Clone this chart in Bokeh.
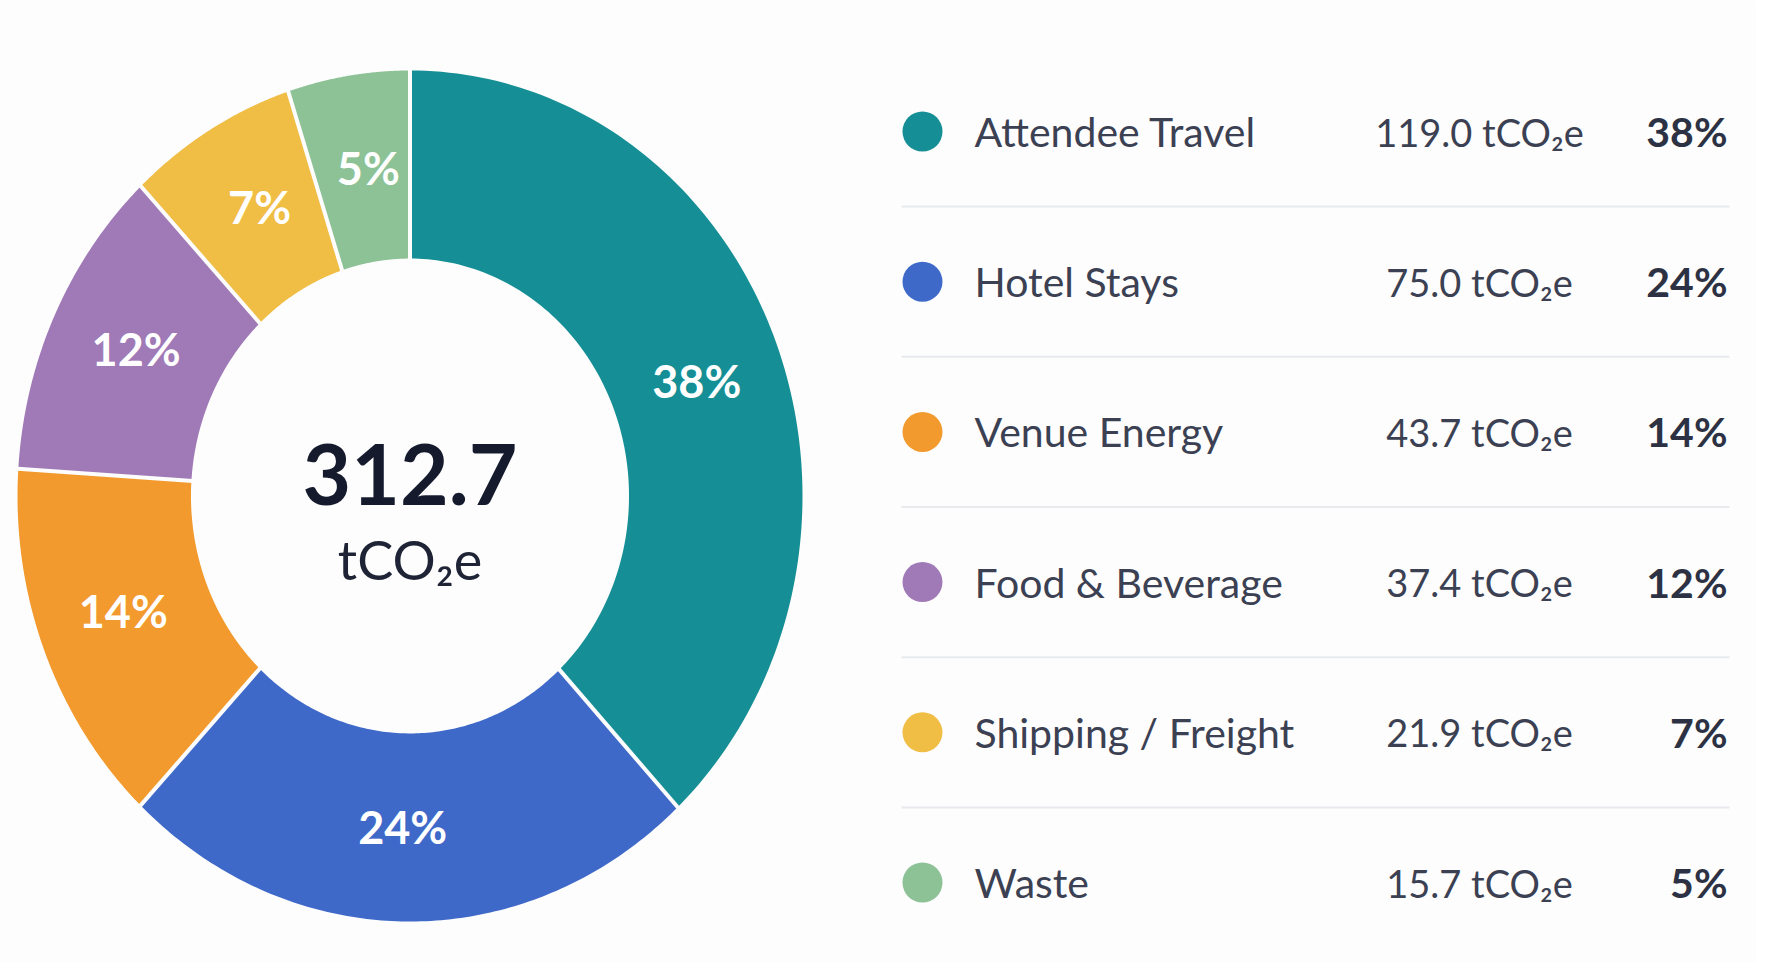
import numpy as np
from bokeh.plotting import figure
from bokeh.layouts import row
from bokeh.models import Range1d, ColumnDataSource
from bokeh.core.properties import value
from bokeh.embed import file_html
from bokeh.resources import INLINE

# data
categories = ["Attendee Travel", "Hotel Stays", "Venue Energy",
              "Food & Beverage", "Shipping / Freight", "Waste"]
emissions = [119.0, 75.0, 43.7, 37.4, 21.9, 15.7]
pct_labels = ["38%", "24%", "14%", "12%", "7%", "5%"]
value_labels = ["119.0 tCO₂e", "75.0 tCO₂e", "43.7 tCO₂e",
                "37.4 tCO₂e", "21.9 tCO₂e", "15.7 tCO₂e"]
total_label = "312.7"
unit_label = "tCO₂e"
colors = ["#158f95", "#3f69c9", "#f29a2d", "#a07ab7", "#f0bd45", "#8dc297"]

BG = "#fdfdfd"
FONT = "Lato"

# ---- donut ----
W1, W2, H = 870, 886, 962
cx_px, cy_px = 409.5, 495.5      # centre of the ring inside the left figure
rx_px, ry_px = 392.5, 425.5      # one unit of radius in pixels (x / y)
inner = 0.558

donut = figure(width=W1, height=H, output_backend="svg", toolbar_location=None,
               x_axis_type=None, y_axis_type=None, min_border=0,
               x_range=Range1d(-cx_px / rx_px, (W1 - cx_px) / rx_px),
               y_range=Range1d(-(H - cy_px) / ry_px, cy_px / ry_px))
donut.grid.visible = False
donut.outline_line_color = None
donut.background_fill_color = BG
donut.border_fill_color = BG

vals = np.array(emissions)
frac = vals / vals.sum()
ends = np.cumsum(frac)
starts = ends - frac

xs, ys = [], []
for s, e in zip(starts, ends):
    t = np.pi / 2 - 2 * np.pi * np.linspace(s, e, 120)
    xs.append(np.concatenate([np.cos(t), inner * np.cos(t[::-1])]))
    ys.append(np.concatenate([np.sin(t), inner * np.sin(t[::-1])]))
donut.patches(xs, ys, fill_color=colors, line_color=None)

# white gaps between slices
b = np.pi / 2 - 2 * np.pi * starts
donut.segment(x0=0.5 * np.cos(b), y0=0.5 * np.sin(b),
              x1=1.05 * np.cos(b), y1=1.05 * np.sin(b),
              line_color=BG, line_width=4)

# slice labels sit a touch clockwise of the slice middle
mid = np.pi / 2 - 2 * np.pi * (starts + frac / 2) - np.radians(1.2)
rl = (1 + inner) / 2
donut.text(x=rl * np.cos(mid), y=rl * np.sin(mid), text=pct_labels,
           text_color="white", text_font=value(FONT), text_font_size="45px",
           text_font_style="bold", text_align="center", text_baseline="middle")

donut.text(x=[0], y=[0.05], text=[total_label], text_color="#151a2d",
           text_font=value(FONT), text_font_size="84px", text_font_style="bold",
           text_align="center", text_baseline="alphabetic")
donut.text(x=[0], y=[-0.15], text=[unit_label], text_color="#1e2435",
           text_font=value(FONT), text_font_size="54px",
           text_align="center", text_baseline="alphabetic")

# ---- legend table ----
x0_ref = 870                     # left edge of the legend figure in page pixels
row0_px, row_step = 131, 150.2
legend = figure(width=W2, height=H, output_backend="svg", toolbar_location=None,
                x_axis_type=None, y_axis_type=None, min_border=0,
                x_range=Range1d(x0_ref, x0_ref + W2),
                y_range=Range1d((H - row0_px) / row_step, -row0_px / row_step))
legend.grid.visible = False
legend.outline_line_color = None
legend.background_fill_color = BG
legend.border_fill_color = BG

n = len(categories)
src = ColumnDataSource(dict(y=list(range(n)), name=categories, val=value_labels,
                            pct=pct_labels, color=colors))

legend.segment(x0=901, x1=1729, y0=[i + 0.5 for i in range(n - 1)],
               y1=[i + 0.5 for i in range(n - 1)], line_color="#e8eaee", line_width=2)
legend.scatter(x=922, y="y", size=40, fill_color="color", line_color=None, source=src)
legend.text(x=974, y="y", text="name", source=src, text_color="#3b4153",
            text_font=value(FONT), text_font_size="41px",
            text_align="left", text_baseline="middle")
legend.text(x=1479, y="y", text="val", source=src, text_color="#3b4153",
            text_font=value(FONT), text_font_size="38px",
            text_align="center", text_baseline="middle")
legend.text(x=1727, y="y", text="pct", source=src, text_color="#2c3243",
            text_font=value(FONT), text_font_size="41px", text_font_style="bold",
            text_align="right", text_baseline="middle")

p = row(donut, legend, spacing=0)
open("out.html", "w").write(file_html(p, INLINE))
